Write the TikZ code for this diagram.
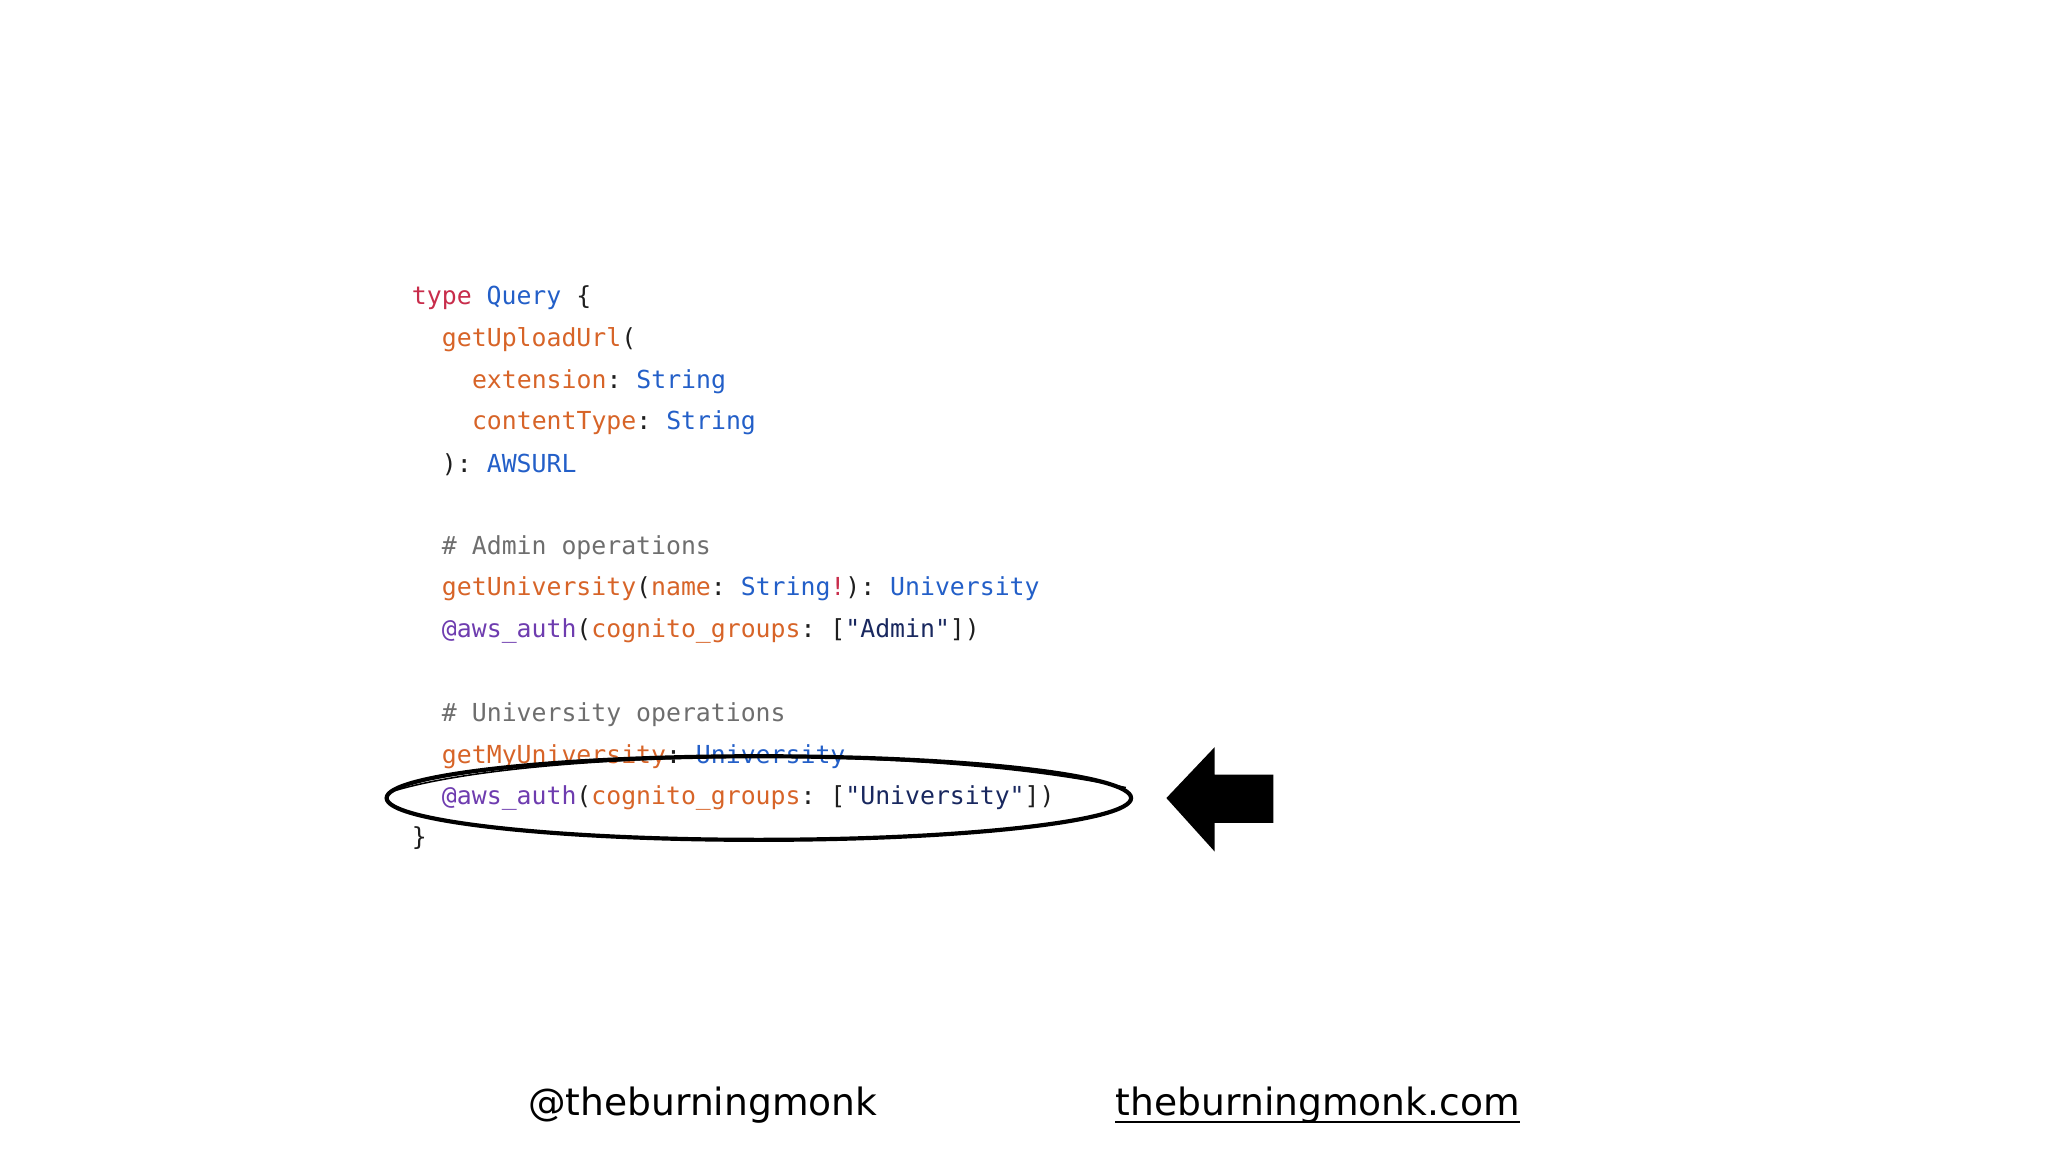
\documentclass[tikz,border=0pt]{standalone}
\usepackage{fontspec}
\setmonofont{DejaVu Sans Mono}
\setsansfont{DejaVu Sans}
\definecolor{kw}{RGB}{200,45,75}
\definecolor{ty}{RGB}{35,95,200}
\definecolor{fn}{RGB}{215,100,40}
\definecolor{dr}{RGB}{110,60,175}
\definecolor{st}{RGB}{25,40,95}
\definecolor{cm}{RGB}{110,110,110}
\definecolor{tx}{RGB}{30,30,30}
\begin{document}
\begin{tikzpicture}[x=0.5pt,y=-0.5pt,
  code/.style={anchor=west,inner sep=0pt,font=\ttfamily\fontsize{9.5pt}{11pt}\selectfont,text=tx},
  foot/.style={inner sep=0pt,font=\sffamily\fontsize{14.4pt}{17pt}\selectfont,text=black}]
\useasboundingbox (0,0) rectangle (1568,882);
\node[code] (l1) at (315,228) {\textcolor{kw}{type} \textcolor{ty}{Query} \{};
\node[code] (l2) at (338,260) {\textcolor{fn}{getUploadUrl}(};
\node[code] (l3) at (361,292) {\textcolor{fn}{extension}: \textcolor{ty}{String}};
\node[code] (l4) at (361,324) {\textcolor{fn}{contentType}: \textcolor{ty}{String}};
\node[code] (l5) at (338,356) {): \textcolor{ty}{AWSURL}};
\node[code] (l6) at (338,419) {\textcolor{cm}{\# Admin operations}};
\node[code] (l7) at (338,451) {\textcolor{fn}{getUniversity}(\textcolor{fn}{name}: \textcolor{ty}{String}\textcolor{kw}{!}): \textcolor{ty}{University}};
\node[code] (l8) at (338,483) {\textcolor{dr}{@aws\_auth}(\textcolor{fn}{cognito\_groups}: [\textcolor{st}{"Admin"}])};
\node[code] (l9) at (338,547) {\textcolor{cm}{\# University operations}};
\node[code] (l10) at (338,579) {\textcolor{fn}{getMyUniversity}: \textcolor{ty}{University}};
\node[code] (l11) at (338,611) {\textcolor{dr}{@aws\_auth}(\textcolor{fn}{cognito\_groups}: [\textcolor{st}{"University"}])};
\node[code] (l12) at (315,642) {\}};
\draw[line width=1.6pt] (581,611) ellipse [x radius=285, y radius=32];
\draw[line width=0.6pt] (300,606) .. controls (400,575) and (700,568) .. (862,603);
\fill[black] (893,611) -- (930,572) -- (930,593) -- (975,593) -- (975,630) -- (930,630) -- (930,652) -- cycle;
\node[foot] (tw) at (538,846) {@theburningmonk};
\node[foot] (web) at (1009,846) {theburningmonk.com};
\draw[line width=0.8pt] ([yshift=-2.5pt]web.base west) -- ([yshift=-2.5pt]web.base east);
\end{tikzpicture}
\end{document}
